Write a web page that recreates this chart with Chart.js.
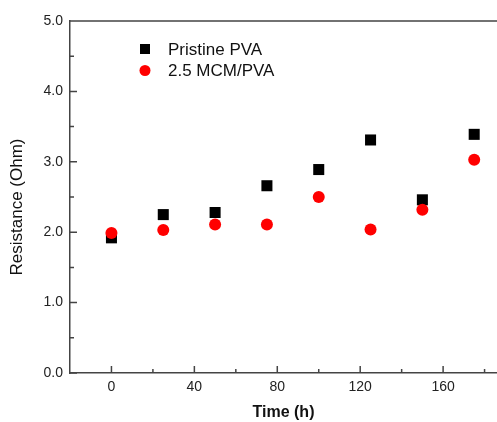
<!DOCTYPE html>
<html>
<head>
<meta charset="utf-8">
<script src="https://cdn.jsdelivr.net/npm/chart.js@4"></script>
<style>
  html, body { margin: 0; padding: 0; background: #fff; }
  #wrap { width: 497px; height: 422px; }
</style>
</head>
<body>
<div id="wrap"><canvas id="chart" width="497" height="422"></canvas></div>
<script>
const times = [0, 25, 50, 75, 100, 125, 150, 175];
const pristine = [1.92, 2.25, 2.28, 2.66, 2.89, 3.31, 2.46, 3.39];
const mcm = [1.99, 2.03, 2.11, 2.11, 2.50, 2.04, 2.32, 3.03];
const xTicks = [0, 40, 80, 120, 160];
const xMinor = [20, 60, 100, 140, 180];
const yTicks = [0, 1, 2, 3, 4, 5];
const yMinor = [0.5, 1.5, 2.5, 3.5, 4.5];
const yTitle = 'Resistance (Ohm)';

const FONT = "'Liberation Sans', Arial, sans-serif";
const AXIS = '#444';

const frame = {
  id: 'frame',
  afterDraw(chart) {
    const { ctx, chartArea: a, scales: { x, y } } = chart;
    ctx.save();
    ctx.strokeStyle = AXIS;
    ctx.lineWidth = 1.5;
    ctx.beginPath();
    xTicks.forEach(v => { const p = x.getPixelForValue(v); ctx.moveTo(p, a.bottom); ctx.lineTo(p, a.bottom - 7); });
    xMinor.forEach(v => { const p = x.getPixelForValue(v); ctx.moveTo(p, a.bottom); ctx.lineTo(p, a.bottom - 4); });
    yTicks.forEach(v => { const p = y.getPixelForValue(v); ctx.moveTo(a.left, p); ctx.lineTo(a.left + 7, p); });
    yMinor.forEach(v => { const p = y.getPixelForValue(v); ctx.moveTo(a.left, p); ctx.lineTo(a.left + 4, p); });
    ctx.moveTo(a.left, a.top);
    ctx.lineTo(a.right, a.top);
    ctx.stroke();

    // y title, sits a bit below the middle of the axis
    ctx.save();
    ctx.translate(17, (a.top + a.bottom) / 2 + 10);
    ctx.rotate(-Math.PI / 2);
    ctx.fillStyle = '#111';
    ctx.font = '17px ' + FONT;
    ctx.textAlign = 'center';
    ctx.textBaseline = 'middle';
    ctx.fillText(yTitle, 0, 0);
    ctx.restore();

    // legend inside the plot
    chart.data.datasets.forEach((ds, i) => {
      const cx = a.left + 75;
      const cy = a.top + 28 + i * 21.5;
      ctx.fillStyle = ds.backgroundColor;
      if (ds.pointStyle === 'rect') {
        ctx.fillRect(cx - 5, cy - 5, 10, 10);
      } else {
        ctx.beginPath();
        ctx.arc(cx, cy, 5.5, 0, Math.PI * 2);
        ctx.fill();
      }
      ctx.fillStyle = '#111';
      ctx.font = '17px ' + FONT;
      ctx.textBaseline = 'middle';
      ctx.textAlign = 'left';
      ctx.fillText(ds.label, cx + 23, cy + 1);
    });
    ctx.restore();
  }
};

new Chart(document.getElementById('chart'), {
  type: 'scatter',
  data: {
    datasets: [
      {
        label: 'Pristine PVA',
        data: times.map((t, i) => ({ x: t, y: pristine[i] })),
        pointStyle: 'rect',
        pointRadius: 7.8,
        backgroundColor: '#000000',
        borderWidth: 0,
        order: 1
      },
      {
        label: '2.5 MCM/PVA',
        data: times.map((t, i) => ({ x: t, y: mcm[i] })),
        pointStyle: 'circle',
        pointRadius: 6,
        backgroundColor: '#ff0000',
        borderWidth: 0,
        order: 0
      }
    ]
  },
  options: {
    responsive: false,
    animation: false,
    devicePixelRatio: 1,
    layout: { autoPadding: false, padding: { top: 21, right: 0, bottom: 0, left: 0 } },
    plugins: { legend: { display: false }, tooltip: { enabled: false } },
    scales: {
      x: {
        type: 'linear',
        min: -20,
        max: 186,
        afterBuildTicks: s => { s.ticks = xTicks.map(v => ({ value: v })); },
        afterFit: s => { s.height = 49; s.paddingLeft = 0; s.paddingRight = 0; },
        grid: { display: false, drawTicks: false },
        border: { display: true, color: AXIS, width: 1.5 },
        ticks: { font: { family: FONT, size: 14 }, color: '#222', padding: 6 },
        title: {
          display: true,
          text: 'Time (h)',
          font: { family: FONT, size: 16, weight: 'bold' },
          color: '#111',
          padding: { top: 0, bottom: 0 }
        }
      },
      y: {
        min: 0,
        max: 5,
        afterBuildTicks: s => { s.ticks = yTicks.map(v => ({ value: v })); },
        afterFit: s => { s.width = 70; },
        grid: { display: false, drawTicks: false },
        border: { display: true, color: AXIS, width: 1.5 },
        ticks: {
          font: { family: FONT, size: 14 },
          color: '#222',
          padding: 7,
          callback: v => v.toFixed(1)
        },
        title: { display: false }
      }
    }
  },
  plugins: [frame]
});
</script>
</body>
</html>
